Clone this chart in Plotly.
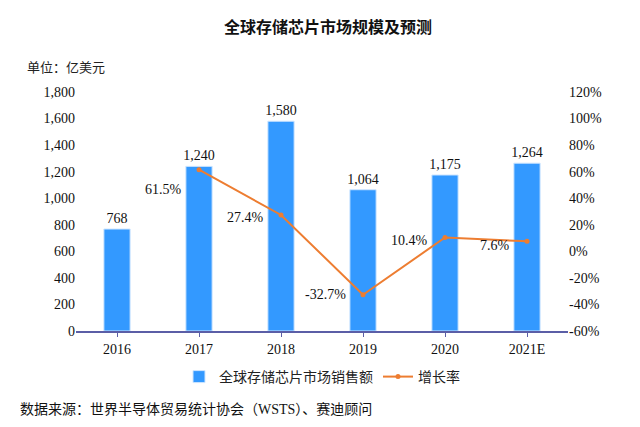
import plotly.graph_objects as go

# 数据
years = ["2016", "2017", "2018", "2019", "2020", "2021E"]
sales = [768, 1240, 1580, 1064, 1175, 1264]          # 亿美元
growth = [None, 61.5, 27.4, -32.7, 10.4, 7.6]        # %
growth_labels = ["", "61.5%", "27.4%", "-32.7%", "10.4%", "7.6%"]
label_yshift = [0, -20, -3, 0, -3, -4]
rate_ticks = [-60, -40, -20, 0, 20, 40, 60, 80, 100, 120]

SERIF = "Liberation Serif, Times New Roman, Noto Sans CJK SC, serif"
BLUE = "#3399FF"
ORANGE = "#ED7D31"
AXIS = "#5B5EA6"
FS = 14

W, H = 640, 427
ML, MR, MT, MB = 68, 80, 84, 104
pw = W - ML - MR
ph = H - MT - MB


def px(x):
    return (x - ML) / pw


def py(y):
    return (H - MB - y) / ph


pos = list(range(len(years)))

fig = go.Figure()

fig.add_trace(go.Bar(
    x=pos, y=sales,
    name="全球存储芯片市场销售额",
    marker=dict(color=BLUE, line=dict(color="#CFE6FF", width=1)),
    text=[f"{v:,}" for v in sales],
    textposition="outside",
    constraintext="none",
    cliponaxis=False,
    textfont=dict(family=SERIF, size=FS, color="#111"),
))

fig.add_trace(go.Scatter(
    x=pos, y=growth,
    name="增长率",
    yaxis="y2",
    mode="lines+markers",
    line=dict(color=ORANGE, width=2),
    marker=dict(color=ORANGE, size=5),
))

# 增长率标签放在点的左边
for x, y, t, dy in zip(pos, growth, growth_labels, label_yshift):
    if y is None:
        continue
    fig.add_annotation(
        x=x, y=y, xref="x", yref="y2", text=t, showarrow=False,
        xanchor="right", yanchor="middle", xshift=-15, yshift=dy,
        font=dict(family=SERIF, size=FS, color="#111"),
    )

fig.add_annotation(
    x=px(17), y=py(60), xref="paper", yref="paper",
    text="单位：亿美元", showarrow=False, xanchor="left", yanchor="middle",
    font=dict(family=SERIF, size=13, color="#222"),
)
fig.add_annotation(
    x=px(10), y=py(401), xref="paper", yref="paper",
    text="数据来源：世界半导体贸易统计协会（WSTS）、赛迪顾问", showarrow=False,
    xanchor="left", yanchor="middle",
    font=dict(family=SERIF, size=14, color="#111"),
)

fig.update_layout(
    width=W, height=H,
    margin=dict(l=ML, r=MR, t=MT, b=MB),
    paper_bgcolor="white", plot_bgcolor="white",
    title=dict(text="<b>全球存储芯片市场规模及预测</b>", x=0.5, xanchor="center",
               y=0.955, yanchor="middle",
               font=dict(family=SERIF, size=16, color="#111")),
    font=dict(family=SERIF, size=FS, color="#111"),
    showlegend=True,
    legend=dict(orientation="h", x=0.5, xanchor="center", y=py(369), yanchor="middle",
                font=dict(family=SERIF, size=14, color="#222")),
    bargap=0.68,
    xaxis=dict(range=[-0.5, len(years) - 0.5], tickvals=pos, ticktext=years,
               showline=True, linecolor=AXIS, linewidth=2,
               ticks="outside", tickcolor=AXIS, ticklen=4, showgrid=False,
               zeroline=False,
               tickfont=dict(family=SERIF, size=FS, color="#111")),
    yaxis=dict(range=[0, 1800], dtick=200, tickformat=",", showgrid=False,
               zeroline=False, showline=False,
               tickfont=dict(family=SERIF, size=FS, color="#111")),
    yaxis2=dict(range=[-60, 120], tickvals=rate_ticks,
                ticktext=[f"{v}%" for v in rate_ticks], overlaying="y",
                side="right", showgrid=False, zeroline=False, showline=False,
                tickfont=dict(family=SERIF, size=FS, color="#111")),
)

fig.write_html("out.html")
